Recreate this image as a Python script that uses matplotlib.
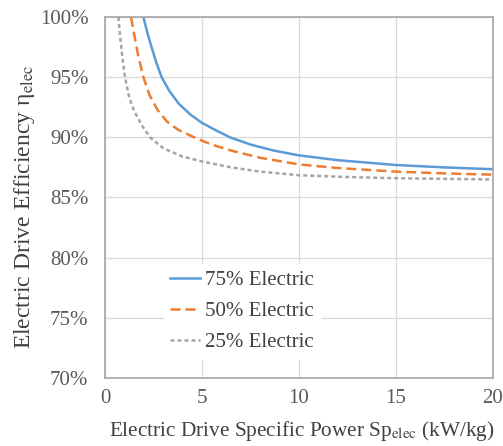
import numpy as np
import matplotlib.pyplot as plt

plt.rcParams.update({
    'font.family': 'Liberation Serif',
    'mathtext.fontset': 'stix',
    'font.size': 15,
})

# ── Values ───────────────────────────────────────────────────────────────────
sp_75 = [1.98, 2.2, 2.4, 2.65, 2.92, 3.3, 3.8, 4.4, 5.0, 5.7, 6.44, 7.5, 8.7, 10.0, 12.0, 15.0, 17.5, 20.0]
eff_75 = [100.0, 98.6, 97.5, 96.2, 95.0, 93.9, 92.8, 91.9, 91.2, 90.6, 90.0, 89.4, 88.9, 88.5, 88.1, 87.7, 87.5, 87.35]

sp_50 = [1.34, 1.5, 1.7, 1.98, 2.3, 2.7, 3.2, 3.8, 4.73, 5.5, 6.5, 8.0, 10.0, 12.0, 15.0, 17.5, 20.0]
eff_50 = [100.0, 98.6, 96.9, 95.0, 93.5, 92.3, 91.3, 90.6, 89.9, 89.4, 88.9, 88.3, 87.75, 87.45, 87.15, 87.0, 86.9]

sp_25 = [0.69, 0.78, 0.9, 1.03, 1.25, 1.5, 1.9, 2.32, 3.0, 4.0, 5.0, 6.5, 8.0, 10.0, 12.5, 15.0, 17.5, 20.0]
eff_25 = [100.0, 98.4, 96.6, 95.0, 93.3, 92.2, 91.0, 90.0, 89.1, 88.4, 88.0, 87.5, 87.15, 86.85, 86.7, 86.6, 86.55, 86.5]

labels = ['75% Electric', '50% Electric', '25% Electric']
x_ticks = [0, 5, 10, 15, 20]
y_ticks = [70, 75, 80, 85, 90, 95, 100]

# ── Figure ───────────────────────────────────────────────────────────────────
fig = plt.figure(figsize=(5.03, 4.46), dpi=100)
ax = fig.add_axes([0.2087, 0.1525, 0.7713, 0.8094])

ax.plot(sp_75, np.array(eff_75) / 100, color='#5B9BD5', lw=1.8,
        label=labels[0])
ax.plot(sp_50, np.array(eff_50) / 100, color='#ED7D31', lw=1.8,
        dashes=(4, 2), label=labels[1])
ax.plot(sp_25, np.array(eff_25) / 100, color='#A5A5A5', lw=1.8,
        dashes=(1.6, 1.2), label=labels[2])

ax.set_xlim(0, 20)
ax.set_ylim(0.70, 1.00)
ax.set_xticks(x_ticks)
ax.set_yticks([v / 100 for v in y_ticks])
ax.set_yticklabels([f'{v}%' for v in y_ticks])

ax.grid(True, color='#d9d9d9', lw=0.9)
ax.set_axisbelow(True)
for s in ax.spines.values():
    s.set_color('#a6a6a6')
    s.set_linewidth(1.2)
ax.tick_params(length=0, labelsize=15, colors='#595959')
ax.tick_params(axis='y', pad=12)
ax.tick_params(axis='x', pad=8)

ax.set_xlabel(r'Electric Drive Specific Power Sp$_{\rm elec}$ (kW/kg)',
              fontsize=15.3, color='#404040')
ax.set_ylabel(r'Electric Drive Efficiency η$_{\rm elec}$',
              fontsize=17, color='#404040')
ax.xaxis.set_label_coords(0.508, -0.115)
ax.yaxis.set_label_coords(-0.175, 0.474)

leg = ax.legend(loc='lower left', bbox_to_anchor=(0.125, 0.025),
                frameon=True, fancybox=False, framealpha=1.0,
                edgecolor='white', facecolor='white', fontsize=15,
                handlelength=1.45, handletextpad=0.2, labelspacing=0.55,
                borderpad=0.3)
for t in leg.get_texts():
    t.set_color('#404040')

fig.savefig('out.png', dpi=100)
